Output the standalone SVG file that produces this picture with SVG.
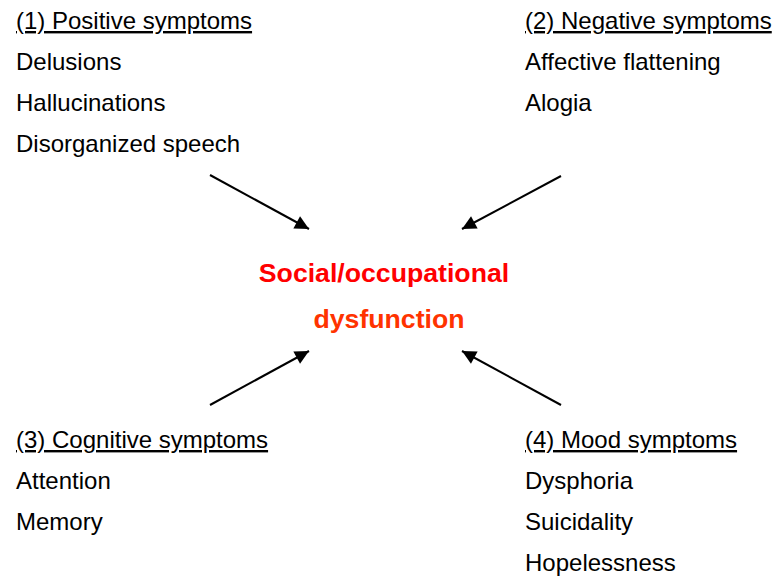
<svg xmlns="http://www.w3.org/2000/svg" width="772" height="576" viewBox="0 0 772 576">
<style>
text{font-family:"Liberation Sans",Arial,sans-serif;font-size:24px;fill:#000}
.hd{text-decoration:underline}
.t1{font-weight:bold;font-size:26.67px;fill:#ff0000}
.t2{font-weight:bold;font-size:26.67px;fill:#ff3300}
.c{stroke:#000;stroke-width:2;fill:none;marker-end:url(#ah)}
</style>
<defs>
<marker id="ah" viewBox="0 0 10 10" refX="10" refY="5" markerWidth="8" markerHeight="7" markerUnits="strokeWidth" orient="auto">
<path d="M0,0 L10,5 L0,10 z" fill="#000"/>
</marker>
</defs>
<rect width="772" height="576" fill="#fff"/>
<g id="positive">
<text x="16" y="29" class="hd">(1) Positive symptoms</text>
<text x="16" y="70">Delusions</text>
<text x="16" y="111">Hallucinations</text>
<text x="16" y="152">Disorganized speech</text>
</g>
<g id="negative">
<text x="525" y="29" class="hd">(2) Negative symptoms</text>
<text x="525" y="70">Affective flattening</text>
<text x="525" y="111">Alogia</text>
</g>
<g id="cognitive">
<text x="16" y="448" class="hd">(3) Cognitive symptoms</text>
<text x="16" y="489">Attention</text>
<text x="16" y="530">Memory</text>
</g>
<g id="mood">
<text x="525" y="448" class="hd">(4) Mood symptoms</text>
<text x="525" y="489">Dysphoria</text>
<text x="525" y="530">Suicidality</text>
<text x="525" y="571">Hopelessness</text>
</g>
<g id="center">
<text x="384" y="282" class="t1" text-anchor="middle">Social/occupational</text>
<text x="389" y="328" class="t2" text-anchor="middle">dysfunction</text>
</g>
<g id="connectors">
<line class="c" x1="210" y1="175" x2="309" y2="229"/>
<line class="c" x1="561" y1="176" x2="462" y2="229"/>
<line class="c" x1="210" y1="405" x2="309" y2="351"/>
<line class="c" x1="561" y1="405" x2="462" y2="351"/>
</g>
</svg>
